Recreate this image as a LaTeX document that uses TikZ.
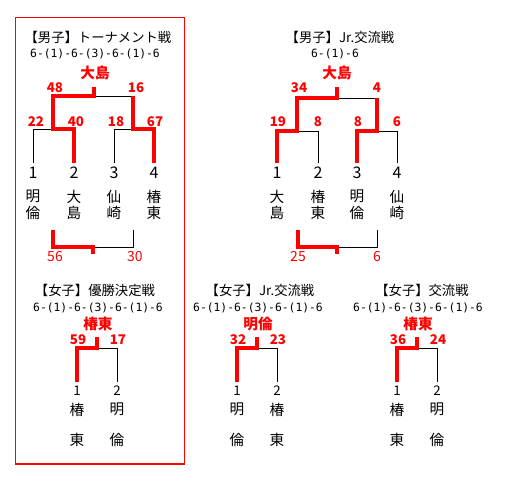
\documentclass[tikz,border=0pt]{standalone}
\usepackage{fontspec}
\setmainfont{Noto Sans CJK JP}
\newfontfamily\setsfont{DejaVu Sans Mono}
\tikzset{
  win/.style={draw=red,line width=3pt,line join=miter},
  lose/.style={draw=black,line width=.7pt},
  ttl/.style={font=\fontsize{10}{12}\selectfont},
  sets/.style={font=\setsfont\fontsize{8.5}{10}\selectfont},
  champ/.style={text=red,font=\bfseries\fontsize{11}{13}\selectfont},
  pts/.style={text=red,font=\bfseries\fontsize{10}{12}\selectfont,inner sep=0pt},
  sub/.style={text=red,font=\fontsize{10.5}{12}\selectfont,inner sep=0pt},
  seed/.style={font=\fontsize{12}{14}\selectfont,anchor=north,inner sep=1pt,outer sep=2pt},
  wseed/.style={font=\fontsize{10}{12}\selectfont,anchor=north,inner sep=1pt,outer sep=2pt},
  team/.style={font=\fontsize{11}{12.5}\selectfont,align=center,inner sep=0pt},
  wteam/.style={font=\fontsize{11}{23}\selectfont,align=center,inner sep=0pt},
}
\begin{document}
\begin{tikzpicture}[x=.75pt,y=-.75pt]
  \useasboundingbox (0,0) rectangle (519,492);
  \draw[red,line width=.8pt] (15.7,17.3) rectangle (184.3,464);

  % men, tournament
  \node[ttl] (mtT) at (98,37) {【男子】トーナメント戦};
  \node[sets] (mtX) at (95,54) {6-(1)-6-(3)-6-(1)-6};
  \node[champ] (mtC) at (95,73) {大島};
  \foreach \i/\x/\nm in {1/33/{明\\倫},2/74/{大\\島},3/114/{仙\\崎},4/154/{椿\\東}} {
    \node[seed] (mt\i) at (\x,163) {\i};
    \node[team] (mtn\i) at (\x,205) {\nm};
  }
  \coordinate (mtS) at (94,87);
  \coordinate (mtF) at (94,96);
  \coordinate (mtL) at (53,129);
  \coordinate (mtR) at (133,129);
  \draw[lose] (mt1.north) |- (mtL);
  \draw[lose] (mt3.north) |- (mtR);
  \draw[lose] (mtF) -- (mtF -| mtR);
  \draw[win] (mtS) -- (mtF) -| (mtL) -| (mt2.north);
  \draw[win] (mt4.north) |- (mtR) -- (mtR |- mtF);
  \foreach \s/\x/\y [count=\k] in {48/55/88,16/136/88,22/36/122,40/76/122,18/116/122,67/155/122}
    \node[pts] (mtp\k) at (\x,\y) {\s};
  % men, tournament, lower match
  \coordinate (mbA) at (53,230);
  \coordinate (mbB) at (133,230);
  \coordinate (mbM) at (93,247);
  \coordinate (mbS) at (93,254);
  \draw[lose] (mbM) -| (mbB);
  \draw[win] (mbA) |- (mbM) -- (mbS);
  \node[sub] (mbp1) at (55,257) {56};
  \node[sub] (mbp2) at (135,257) {30};

  % men, Jr.
  \node[ttl] (mjT) at (340,37) {【男子】Jr.交流戦};
  \node[sets] (mjX) at (335,54) {6-(1)-6};
  \node[champ] (mjC) at (337,73) {大島};
  \foreach \i/\x/\nm in {1/277/{大\\島},2/318/{椿\\東},3/357/{明\\倫},4/397/{仙\\崎}} {
    \node[seed] (mj\i) at (\x,163) {\i};
    \node[team] (mjn\i) at (\x,205) {\nm};
  }
  \coordinate (mjS) at (337,87);
  \coordinate (mjF) at (337,98);
  \coordinate (mjL) at (297,131);
  \coordinate (mjR) at (377,131);
  \draw[lose] (mjL) -| (mj2.north);
  \draw[lose] (mjR) -| (mj4.north);
  \draw[lose] (mjF) -- (mjF -| mjR);
  \draw[win] (mjS) -- (mjF) -| (mjL) -| (mj1.north);
  \draw[win] (mj3.north) |- (mjR) -- (mjR |- mjF);
  \foreach \s/\x/\y [count=\k] in {34/299/88,4/377/88,19/278/122,8/318/122,8/358/122,6/397/122}
    \node[pts] (mjp\k) at (\x,\y) {\s};
  % men, Jr., lower match
  \coordinate (jbA) at (298,230);
  \coordinate (jbB) at (377,230);
  \coordinate (jbM) at (337,247);
  \coordinate (jbS) at (337,254);
  \draw[lose] (jbM) -| (jbB);
  \draw[win] (jbA) |- (jbM) -- (jbS);
  \node[sub] (jbp1) at (298,257) {25};
  \node[sub] (jbp2) at (377,257) {6};

  % women, three finals
  \foreach \pre/\tx/\ttext/\sx/\ch/\pa/\pb/\na/\nb in {
    wf/95/{優勝決定戦}/97/椿東/59/17/{椿\\東}/{明\\倫},
    wj/260/{Jr.交流戦}/257/明倫/32/23/{明\\倫}/{椿\\東},
    wx/422/{交流戦}/417/椿東/36/24/{椿\\東}/{明\\倫}}
  {
    \node[ttl] (\pre T) at (\tx,290) {【女子】\ttext};
    \node[sets] (\pre X) at (\sx+1,308) {6-(1)-6-(3)-6-(1)-6};
    \node[champ] (\pre C) at (\sx+1,324) {\ch};
    \node[wseed] (\pre 1) at (\sx-20,382) {1};
    \node[wseed] (\pre 2) at (\sx+20,382) {2};
    \node[wteam] (\pre n1) at (\sx-20,425) {\na};
    \node[wteam] (\pre n2) at (\sx+20,425) {\nb};
    \coordinate (\pre S) at (\sx,337);
    \coordinate (\pre F) at (\sx,348);
    \draw[lose] (\pre F) -| (\pre 2.north);
    \draw[win] (\pre S) -- (\pre F) -| (\pre 1.north);
    \node[pts] (\pre p1) at (\sx-19,340) {\pa};
    \node[pts] (\pre p2) at (\sx+21,340) {\pb};
  }
\end{tikzpicture}
\end{document}
